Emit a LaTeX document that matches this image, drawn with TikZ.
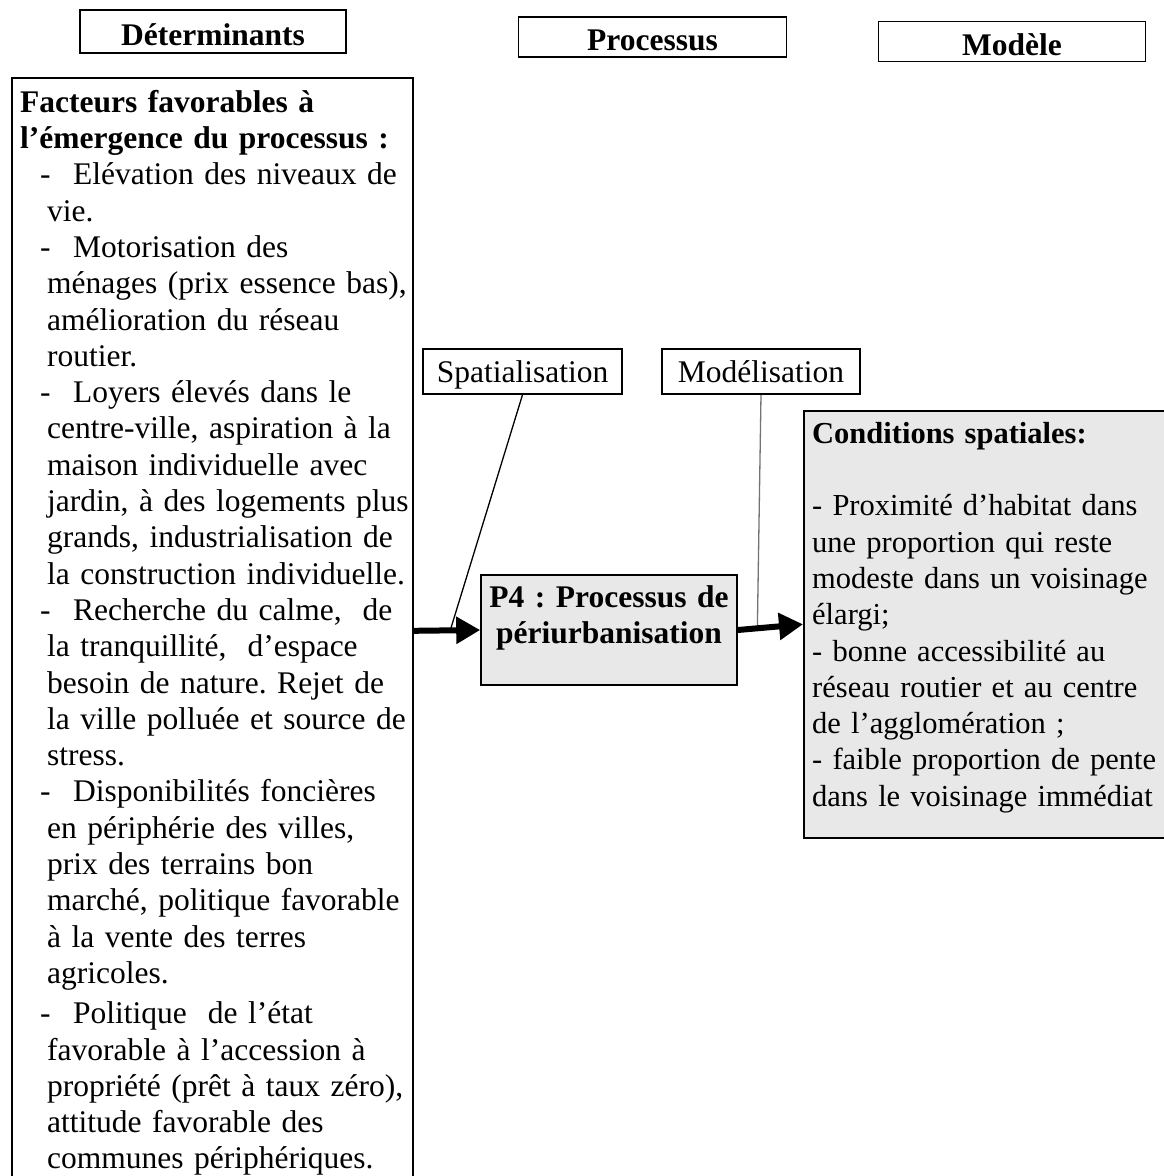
\documentclass[tikz,border=0pt]{standalone}
\usepackage{fontspec}
\setmainfont{Liberation Serif}
\usetikzlibrary{arrows.meta,calc}
\definecolor{boxgray}{gray}{0.91}
\newcommand\myitem[1]{\hspace*{20pt}\makebox[33pt][l]{-}#1}
\newcommand\mycont[1]{\hspace*{27pt}#1}
\newcommand\firstline{\rule{0pt}{28pt}}
\frenchspacing
\tikzset{
  frame/.style={draw=black, line width=1.6pt, inner sep=0pt},
  hdr/.style={frame, font=\frenchspacing\bfseries\fontsize{31.5pt}{36pt}\selectfont, text height=27pt, text depth=0pt},
  tag/.style={frame, font=\fontsize{31.5pt}{36pt}\selectfont, text height=28pt, text depth=7pt, minimum height=45pt},
  body/.style 2 args={inner sep=0pt, font=\frenchspacing\fontsize{#2}{36.3pt}\selectfont, text width=#1, align=left, anchor=north west},
  shaded/.style={frame, fill=boxgray},
  bigarrow/.style={line width=6pt, -{Triangle[length=24pt,width=26pt]}},
  conn/.style={line width=1.3pt},
}
\begin{document}
\begin{tikzpicture}[x=1pt,y=-1pt]
\useasboundingbox (0,0) rectangle (1164,1176);

% column headers
\node[hdr, minimum width=266pt, minimum height=43pt] (det) at (213,31.5) {Déterminants};
\node[hdr, minimum width=268pt, minimum height=40pt] (proc) at (652.5,37) {Processus};
\node[hdr, minimum width=267pt, minimum height=40pt] (modl) at (1012,41.5) {Modèle};

% left box
\node[frame, minimum width=401pt, minimum height=1106pt, anchor=north west] (leftbox) at (11,77) {};
\node[body={400pt}{31.5pt}] (lefttxt) at (20,84) {\noindent\firstline\textbf{Facteurs favorables à}\\
\textbf{l’émergence du processus :}\\
\myitem{Elévation des niveaux de}\\
\mycont{vie.}\\
\myitem{Motorisation des}\\
\mycont{ménages (prix essence bas),}\\
\mycont{amélioration du réseau}\\
\mycont{routier.}\\
\myitem{Loyers élevés dans le}\\
\mycont{centre-ville, aspiration à la}\\
\mycont{maison individuelle avec}\\
\mycont{jardin, à des logements plus}\\
\mycont{grands, industrialisation de}\\
\mycont{la construction individuelle.}\\
\myitem{Recherche du calme,\ \ de}\\
\mycont{la tranquillité,\ \ d’espace}\\
\mycont{besoin de nature. Rejet de}\\
\mycont{la ville polluée et source de}\\
\mycont{stress.}\\
\myitem{Disponibilités foncières}\\
\mycont{en périphérie des villes,}\\
\mycont{prix des terrains bon}\\
\mycont{marché, politique favorable}\\
\mycont{à la vente des terres}\\
\mycont{agricoles.}\\[4pt]
\myitem{Politique\ \ de l’état}\\
\mycont{favorable à l’accession à}\\
\mycont{propriété (prêt à taux zéro),}\\
\mycont{attitude favorable des}\\
\mycont{communes périphériques.}};

% tags
\node[tag, minimum width=199pt] (spat) at (522.5,371.5) {Spatialisation};
\node[tag, minimum width=198pt] (mod) at (761,371.5) {Modélisation};

% process box
\node[shaded, minimum width=256pt, minimum height=110pt] (p4) at (609,630) {};
\node[inner sep=0pt, font=\frenchspacing\bfseries\fontsize{31.5pt}{36pt}\selectfont, text width=256pt, align=center, anchor=north] (p4txt) at (609,579) {\firstline P4 : Processus de\\ périurbanisation};

% model box
\node[shaded, minimum width=380pt, minimum height=427pt, anchor=north west] (cond) at (803,410) {};
\node[body={345pt}{30.5pt}] (condtxt) at (812,415) {\noindent\firstline\textbf{Conditions spatiales:}\\[36.3pt]
- Proximité d’habitat dans\\
une proportion qui reste\\
modeste dans un voisinage\\
élargi;\\
- bonne accessibilité au\\
réseau routier et au centre\\
de l’agglomération ;\\
- faible proportion de pente\\
dans le voisinage immédiat};

% connectors
\coordinate (s1) at ($(leftbox.east)!0.55!(p4.west)$);
\coordinate (m1) at ($(p4.east)!0.3!(cond.west)$);
\draw[conn] (spat.south) -- (s1);
\draw[conn, draw=black!55] (mod.south) -- (m1);
\draw[bigarrow] (leftbox.east) -- (p4.west);
\draw[bigarrow] (p4.east) -- (cond.west);
\end{tikzpicture}
\end{document}
